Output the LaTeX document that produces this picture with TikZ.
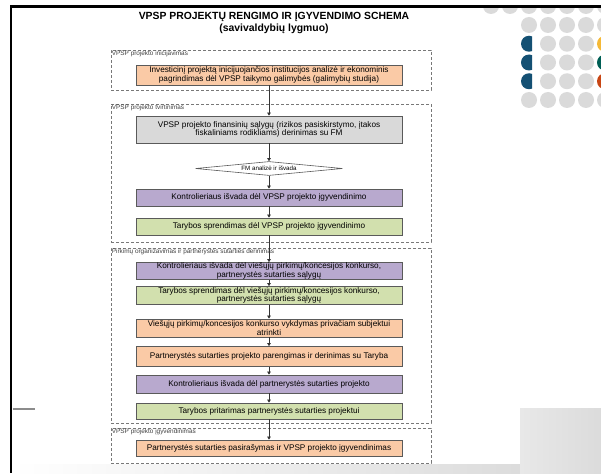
\documentclass[tikz,border=0pt]{standalone}
\usepackage{fontspec}
\setmainfont{Liberation Sans}
\usetikzlibrary{arrows.meta, shapes.geometric}

\definecolor{peach}{RGB}{250,202,166}
\definecolor{lightgray}{RGB}{217,217,217}
\definecolor{lilac}{RGB}{184,169,206}
\definecolor{sage}{RGB}{210,224,174}
\definecolor{edgegray}{RGB}{90,90,90}
\definecolor{dashgray}{RGB}{120,120,120}
\definecolor{dotgray}{RGB}{218,218,218}
\definecolor{dotblue}{RGB}{20,80,115}
\definecolor{dotyellow}{RGB}{245,185,55}
\definecolor{dotteal}{RGB}{0,95,85}
\definecolor{dotred}{RGB}{200,70,20}

\tikzset{
  procbox/.style={draw=edgegray, line width=0.7pt, minimum width=266pt, inner xsep=0pt,
    inner ysep=0.4pt, align=center, font=\fontsize{8.2}{8.5}\selectfont},
  grp/.style={draw=dashgray, dash pattern=on 3pt off 2pt, line width=0.6pt,
    minimum width=320pt, inner sep=0pt},
  grplbl/.style={anchor=north west, inner sep=1pt, text=black!75,
    font=\fontsize{6.4}{7}\selectfont},
  flow/.style={draw=black!80, line width=0.6pt, -{Triangle[length=3pt,width=3.5pt]}}
}

\begin{document}
\begin{tikzpicture}[x=1pt, y=-1pt]
  \useasboundingbox (0,0) rectangle (601,473);

  % slide background
  \fill[left color=white, right color=black!16] (12,464) rectangle (601,473);
  \fill[left color=black!9, right color=black!14] (520,408) rectangle (601,473);

  % dots top right
  \begin{scope}
    \clip (480,8) rectangle (601,20);
    \foreach \x in {491,510,...,605}
      \fill[dotgray] (\x,6) circle (8);
  \end{scope}
  \foreach \y in {25,100}
    \foreach \x in {529,548,...,605}
      \fill[dotgray] (\x,\y) circle (8);
  \foreach \y/\c in {43.75/dotyellow, 62.5/dotteal, 81.25/dotred} {
    \foreach \x in {548,567,586}
      \fill[dotgray] (\x,\y) circle (8);
    \fill[\c] (605,\y) circle (8);
    \begin{scope}
      \clip (519,\y-9) rectangle (532,\y+9);
      \fill[dotblue] (529,\y) circle (8);
    \end{scope}
  }

  \draw[line width=2.8pt] (601,6.5) -- (11,6.5) -- (11,473);
  \draw[black!45, line width=1.5pt] (12.5,409) -- (35,409);

  % title
  \node[font=\bfseries\fontsize{10.4}{12}\selectfont, align=center] (ttl) at (274,22.5)
    {VPSP PROJEKTŲ RENGIMO IR ĮGYVENDIMO SCHEMA\\(savivaldybių lygmuo)};

  % stages
  \node[grp, minimum height=40pt] (g1) at (271,70) {};
  \node[grp, minimum height=138pt] (g2) at (271,173) {};
  \node[grp, minimum height=175pt] (g3) at (271,335.5) {};
  \node[grp, minimum height=35pt] (g4) at (271,445.5) {};
  \node[grplbl] (l1) at (g1.north west) {VPSP projekto inicijavimas};
  \node[grplbl] (l2) at (g2.north west) {VPSP projekto tvirtinimas};
  \node[grplbl] (l3) at (g3.north west) {Pirkimų organizavimas ir partnerystės sutarties derinimas};
  \node[grplbl] (l4) at (g4.north west) {VPSP projekto įgyvendinimas};

  % steps
  \node[procbox, fill=peach, minimum height=20pt] (b1) at (269,75)
    {Investicinį projektą inicijuojančios institucijos analizė ir ekonominis\\pagrindimas dėl VPSP taikymo galimybės (galimybių studija)};
  \node[procbox, fill=lightgray, minimum height=27pt] (b2) at (269,129.5)
    {VPSP projekto finansinių sąlygų (rizikos pasiskirstymo, įtakos\\fiskaliniams rodikliams) derinimas su FM};
  \node[diamond, draw=edgegray, line width=0.6pt, fill=white, shape aspect=10, inner sep=0pt,
    minimum width=147pt, minimum height=14pt, font=\fontsize{6.2}{7}\selectfont] (fm) at (269,168.5)
    {FM analizė ir išvada};
  \node[procbox, fill=lilac, minimum height=17pt] (b3) at (269,197.5)
    {Kontrolieriaus išvada dėl VPSP projekto įgyvendinimo};
  \node[procbox, fill=sage, minimum height=17pt] (b4) at (269,226.5)
    {Tarybos sprendimas dėl VPSP projekto įgyvendinimo};
  \node[procbox, fill=lilac, minimum height=17pt] (b5) at (269,271)
    {Kontrolieriaus išvada dėl viešųjų pirkimų/koncesijos konkurso,\\partnerystės sutarties sąlygų};
  \node[procbox, fill=sage, minimum height=18pt] (b6) at (269,295.5)
    {Tarybos sprendimas dėl viešųjų pirkimų/koncesijos konkurso,\\partnerystės sutarties sąlygų};
  \node[procbox, fill=peach, minimum height=18pt] (b7) at (269,328)
    {Viešųjų pirkimų/koncesijos konkurso vykdymas privačiam subjektui\\atrinkti};
  \node[procbox, fill=peach, minimum height=20pt] (b8) at (269,356.5)
    {Partnerystės sutarties projekto parengimas ir derinimas su Taryba};
  \node[procbox, fill=lilac, minimum height=18pt] (b9) at (269,384)
    {Kontrolieriaus išvada dėl partnerystės sutarties projekto};
  \node[procbox, fill=sage, minimum height=16pt] (b10) at (269,411)
    {Tarybos pritarimas partnerystės sutarties projektui};
  \node[procbox, fill=peach, minimum height=16pt] (b11) at (269,448)
    {Partnerystės sutarties pasirašymas ir VPSP projekto įgyvendinimas};

  \foreach \from/\to in {b1/b2, b2/fm, fm/b3, b3/b4, b4/b5, b5/b6, b6/b7, b7/b8, b8/b9, b9/b10, b10/b11}
    \draw[flow] (\from.south) -- (\to.north);
\end{tikzpicture}
\end{document}
